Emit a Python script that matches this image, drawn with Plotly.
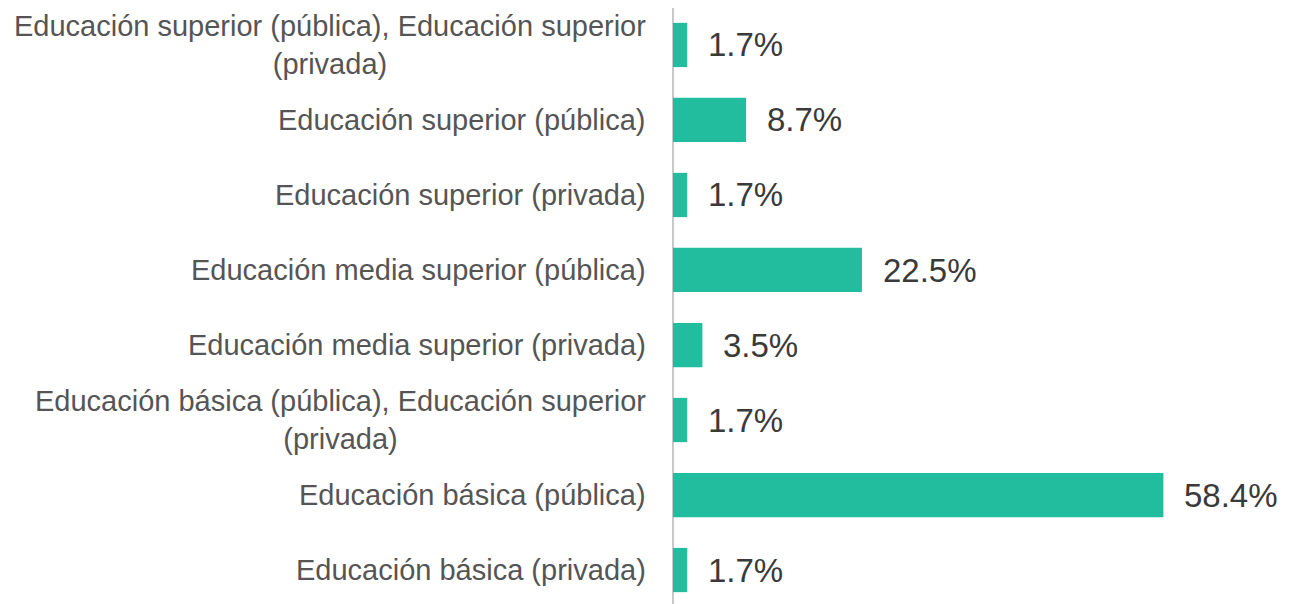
import plotly.graph_objects as go

categories = [
    "Educación superior (pública), Educación superior<br>(privada)",
    "Educación superior (pública)",
    "Educación superior (privada)",
    "Educación media superior (pública)",
    "Educación media superior (privada)",
    "Educación básica (pública), Educación superior<br>(privada)",
    "Educación básica (pública)",
    "Educación básica (privada)",
]
values = [1.7, 8.7, 1.7, 22.5, 3.5, 1.7, 58.4, 1.7]
value_labels = ["1.7%", "8.7%", "1.7%", "22.5%", "3.5%", "1.7%", "58.4%", "1.7%"]

BAR = "#22BC9F"

fig = go.Figure()
fig.add_trace(go.Bar(
    x=values, y=list(range(len(categories))), orientation="h",
    marker=dict(color=BAR, line=dict(width=0)),
    width=0.59, hoverinfo="skip",
))

annotations = []
for i, (c, v, t) in enumerate(zip(categories, values, value_labels)):
    annotations.append(dict(
        x=0, xref="paper", y=i, yref="y", text=c, showarrow=False,
        xanchor="right", yanchor="middle", xshift=-25, align="center",
        font=dict(family="Liberation Sans, Arial, sans-serif", size=29, color="#555555"),
    ))
    annotations.append(dict(
        x=v, xref="x", y=i, yref="y", text=t, showarrow=False,
        xanchor="left", yanchor="middle", xshift=19,
        font=dict(family="Liberation Sans, Arial, sans-serif", size=33, color="#3a3a3a"),
    ))

fig.update_layout(
    width=1283, height=596,
    margin=dict(l=665, r=5, t=0, b=0),
    paper_bgcolor="white", plot_bgcolor="white",
    showlegend=False,
    annotations=annotations,
    shapes=[dict(type="line", xref="paper", yref="paper", x0=0, x1=0, y0=0, y1=1.014,
                 line=dict(color="#C8C8C8", width=2), layer="below")],
    xaxis=dict(range=[0, 73], showgrid=False, zeroline=False, showticklabels=False,
               showline=False, ticks=""),
    yaxis=dict(range=[7.453, -0.493], showgrid=False, zeroline=False,
               showticklabels=False, ticks="", showline=False),
)

fig.write_html("out.html")
